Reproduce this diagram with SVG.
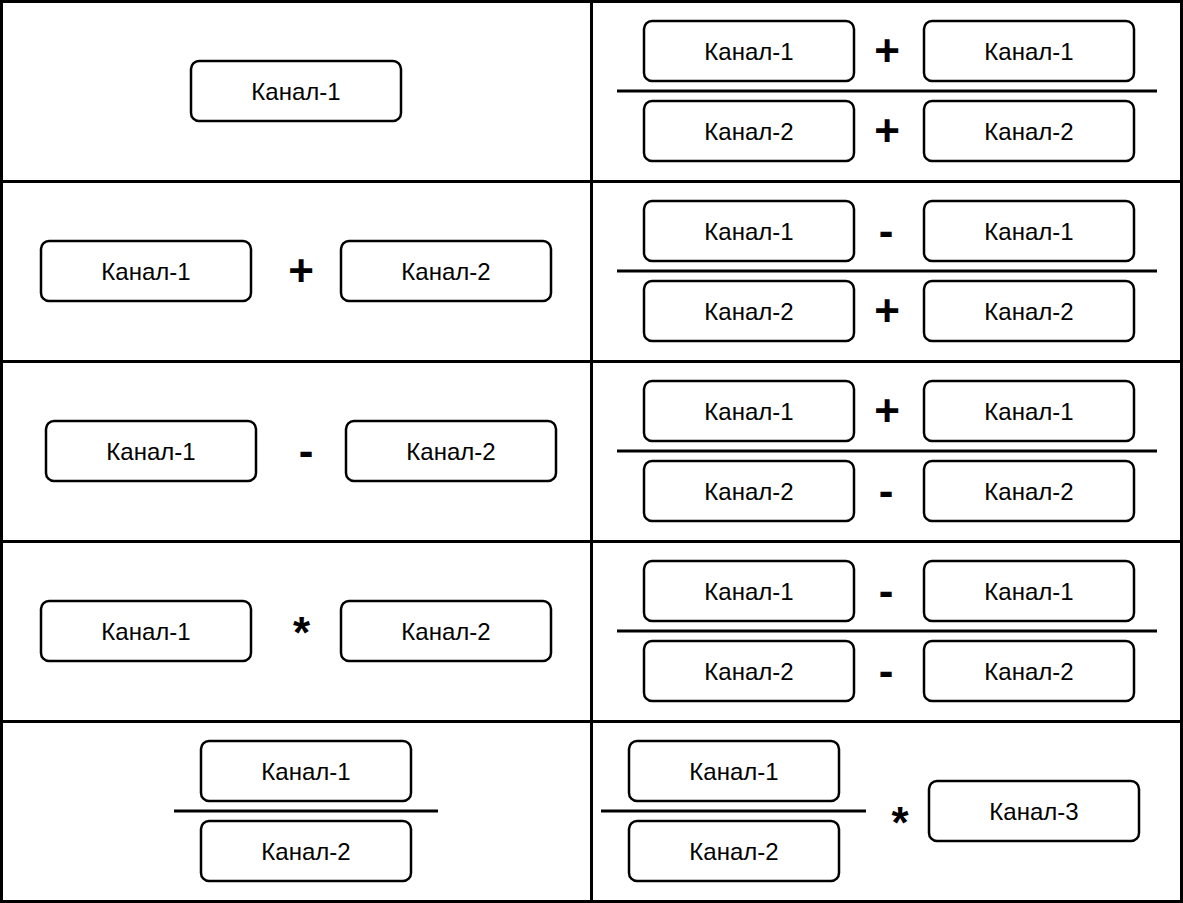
<svg xmlns="http://www.w3.org/2000/svg" width="1183" height="903" viewBox="0 0 1183 903">
<style>
.grid{fill:none;stroke:#000;stroke-width:3}
.box{fill:#fff;stroke:#000;stroke-width:2.5}
.lbl{font-family:"Liberation Sans",Arial,sans-serif;font-size:24px;text-anchor:middle;fill:#000}
.op{font-family:"Liberation Sans",Arial,sans-serif;font-size:44px;font-weight:bold;text-anchor:middle;fill:#000}
.bar{stroke:#000;stroke-width:3}
</style>
<defs>
<rect id="b" class="box" x="0" y="0" width="210" height="60" rx="8" ry="8"/>
</defs>
<rect width="1183" height="903" fill="#fff"/>
<g id="grid">
<rect class="grid" x="1.5" y="1.5" width="1180" height="900"/>
<line class="grid" x1="591.5" y1="0" x2="591.5" y2="903"/>
<line class="grid" x1="0" y1="181.5" x2="1183" y2="181.5"/>
<line class="grid" x1="0" y1="361.5" x2="1183" y2="361.5"/>
<line class="grid" x1="0" y1="541.5" x2="1183" y2="541.5"/>
<line class="grid" x1="0" y1="721.5" x2="1183" y2="721.5"/>
</g>
<g id="connectors">
<line class="bar" x1="617" y1="91" x2="1157" y2="91"/>
<line class="bar" x1="617" y1="271" x2="1157" y2="271"/>
<line class="bar" x1="617" y1="451" x2="1157" y2="451"/>
<line class="bar" x1="617" y1="631" x2="1157" y2="631"/>
<line class="bar" x1="174" y1="811" x2="438" y2="811"/>
<line class="bar" x1="601" y1="811" x2="866" y2="811"/>
</g>
<g id="row1">
<g id="r1l"><use href="#b" x="191" y="61"/><text class="lbl" x="296" y="99.5">Канал-1</text></g>
<g id="r1a"><use href="#b" x="644" y="21"/><text class="lbl" x="749" y="59.5">Канал-1</text></g>
<g id="r1b"><use href="#b" x="924" y="21"/><text class="lbl" x="1029" y="59.5">Канал-1</text></g>
<g id="r1c"><use href="#b" x="644" y="101"/><text class="lbl" x="749" y="139.5">Канал-2</text></g>
<g id="r1d"><use href="#b" x="924" y="101"/><text class="lbl" x="1029" y="139.5">Канал-2</text></g>
<text class="op" x="887" y="66">+</text>
<text class="op" x="887" y="146">+</text>
</g>
<g id="row2">
<g id="r2l1"><use href="#b" x="41" y="241"/><text class="lbl" x="146" y="279.5">Канал-1</text></g>
<g id="r2l2"><use href="#b" x="341" y="241"/><text class="lbl" x="446" y="279.5">Канал-2</text></g>
<text class="op" x="301" y="286">+</text>
<g id="r2a"><use href="#b" x="644" y="201"/><text class="lbl" x="749" y="239.5">Канал-1</text></g>
<g id="r2b"><use href="#b" x="924" y="201"/><text class="lbl" x="1029" y="239.5">Канал-1</text></g>
<g id="r2c"><use href="#b" x="644" y="281"/><text class="lbl" x="749" y="319.5">Канал-2</text></g>
<g id="r2d"><use href="#b" x="924" y="281"/><text class="lbl" x="1029" y="319.5">Канал-2</text></g>
<text class="op" x="886" y="246">-</text>
<text class="op" x="887" y="326">+</text>
</g>
<g id="row3">
<g id="r3l1"><use href="#b" x="46" y="421"/><text class="lbl" x="151" y="459.5">Канал-1</text></g>
<g id="r3l2"><use href="#b" x="346" y="421"/><text class="lbl" x="451" y="459.5">Канал-2</text></g>
<text class="op" x="306" y="466">-</text>
<g id="r3a"><use href="#b" x="644" y="381"/><text class="lbl" x="749" y="419.5">Канал-1</text></g>
<g id="r3b"><use href="#b" x="924" y="381"/><text class="lbl" x="1029" y="419.5">Канал-1</text></g>
<g id="r3c"><use href="#b" x="644" y="461"/><text class="lbl" x="749" y="499.5">Канал-2</text></g>
<g id="r3d"><use href="#b" x="924" y="461"/><text class="lbl" x="1029" y="499.5">Канал-2</text></g>
<text class="op" x="887" y="426">+</text>
<text class="op" x="886" y="506">-</text>
</g>
<g id="row4">
<g id="r4l1"><use href="#b" x="41" y="601"/><text class="lbl" x="146" y="639.5">Канал-1</text></g>
<g id="r4l2"><use href="#b" x="341" y="601"/><text class="lbl" x="446" y="639.5">Канал-2</text></g>
<text class="op" x="301.5" y="648">*</text>
<g id="r4a"><use href="#b" x="644" y="561"/><text class="lbl" x="749" y="599.5">Канал-1</text></g>
<g id="r4b"><use href="#b" x="924" y="561"/><text class="lbl" x="1029" y="599.5">Канал-1</text></g>
<g id="r4c"><use href="#b" x="644" y="641"/><text class="lbl" x="749" y="679.5">Канал-2</text></g>
<g id="r4d"><use href="#b" x="924" y="641"/><text class="lbl" x="1029" y="679.5">Канал-2</text></g>
<text class="op" x="886" y="606">-</text>
<text class="op" x="886" y="686">-</text>
</g>
<g id="row5">
<g id="r5l1"><use href="#b" x="201" y="741"/><text class="lbl" x="306" y="779.5">Канал-1</text></g>
<g id="r5l2"><use href="#b" x="201" y="821"/><text class="lbl" x="306" y="859.5">Канал-2</text></g>
<g id="r5a"><use href="#b" x="629" y="741"/><text class="lbl" x="734" y="779.5">Канал-1</text></g>
<g id="r5b"><use href="#b" x="629" y="821"/><text class="lbl" x="734" y="859.5">Канал-2</text></g>
<g id="r5c"><use href="#b" x="929" y="781"/><text class="lbl" x="1034" y="819.5">Канал-3</text></g>
<text class="op" x="900" y="838">*</text>
</g>
</svg>
